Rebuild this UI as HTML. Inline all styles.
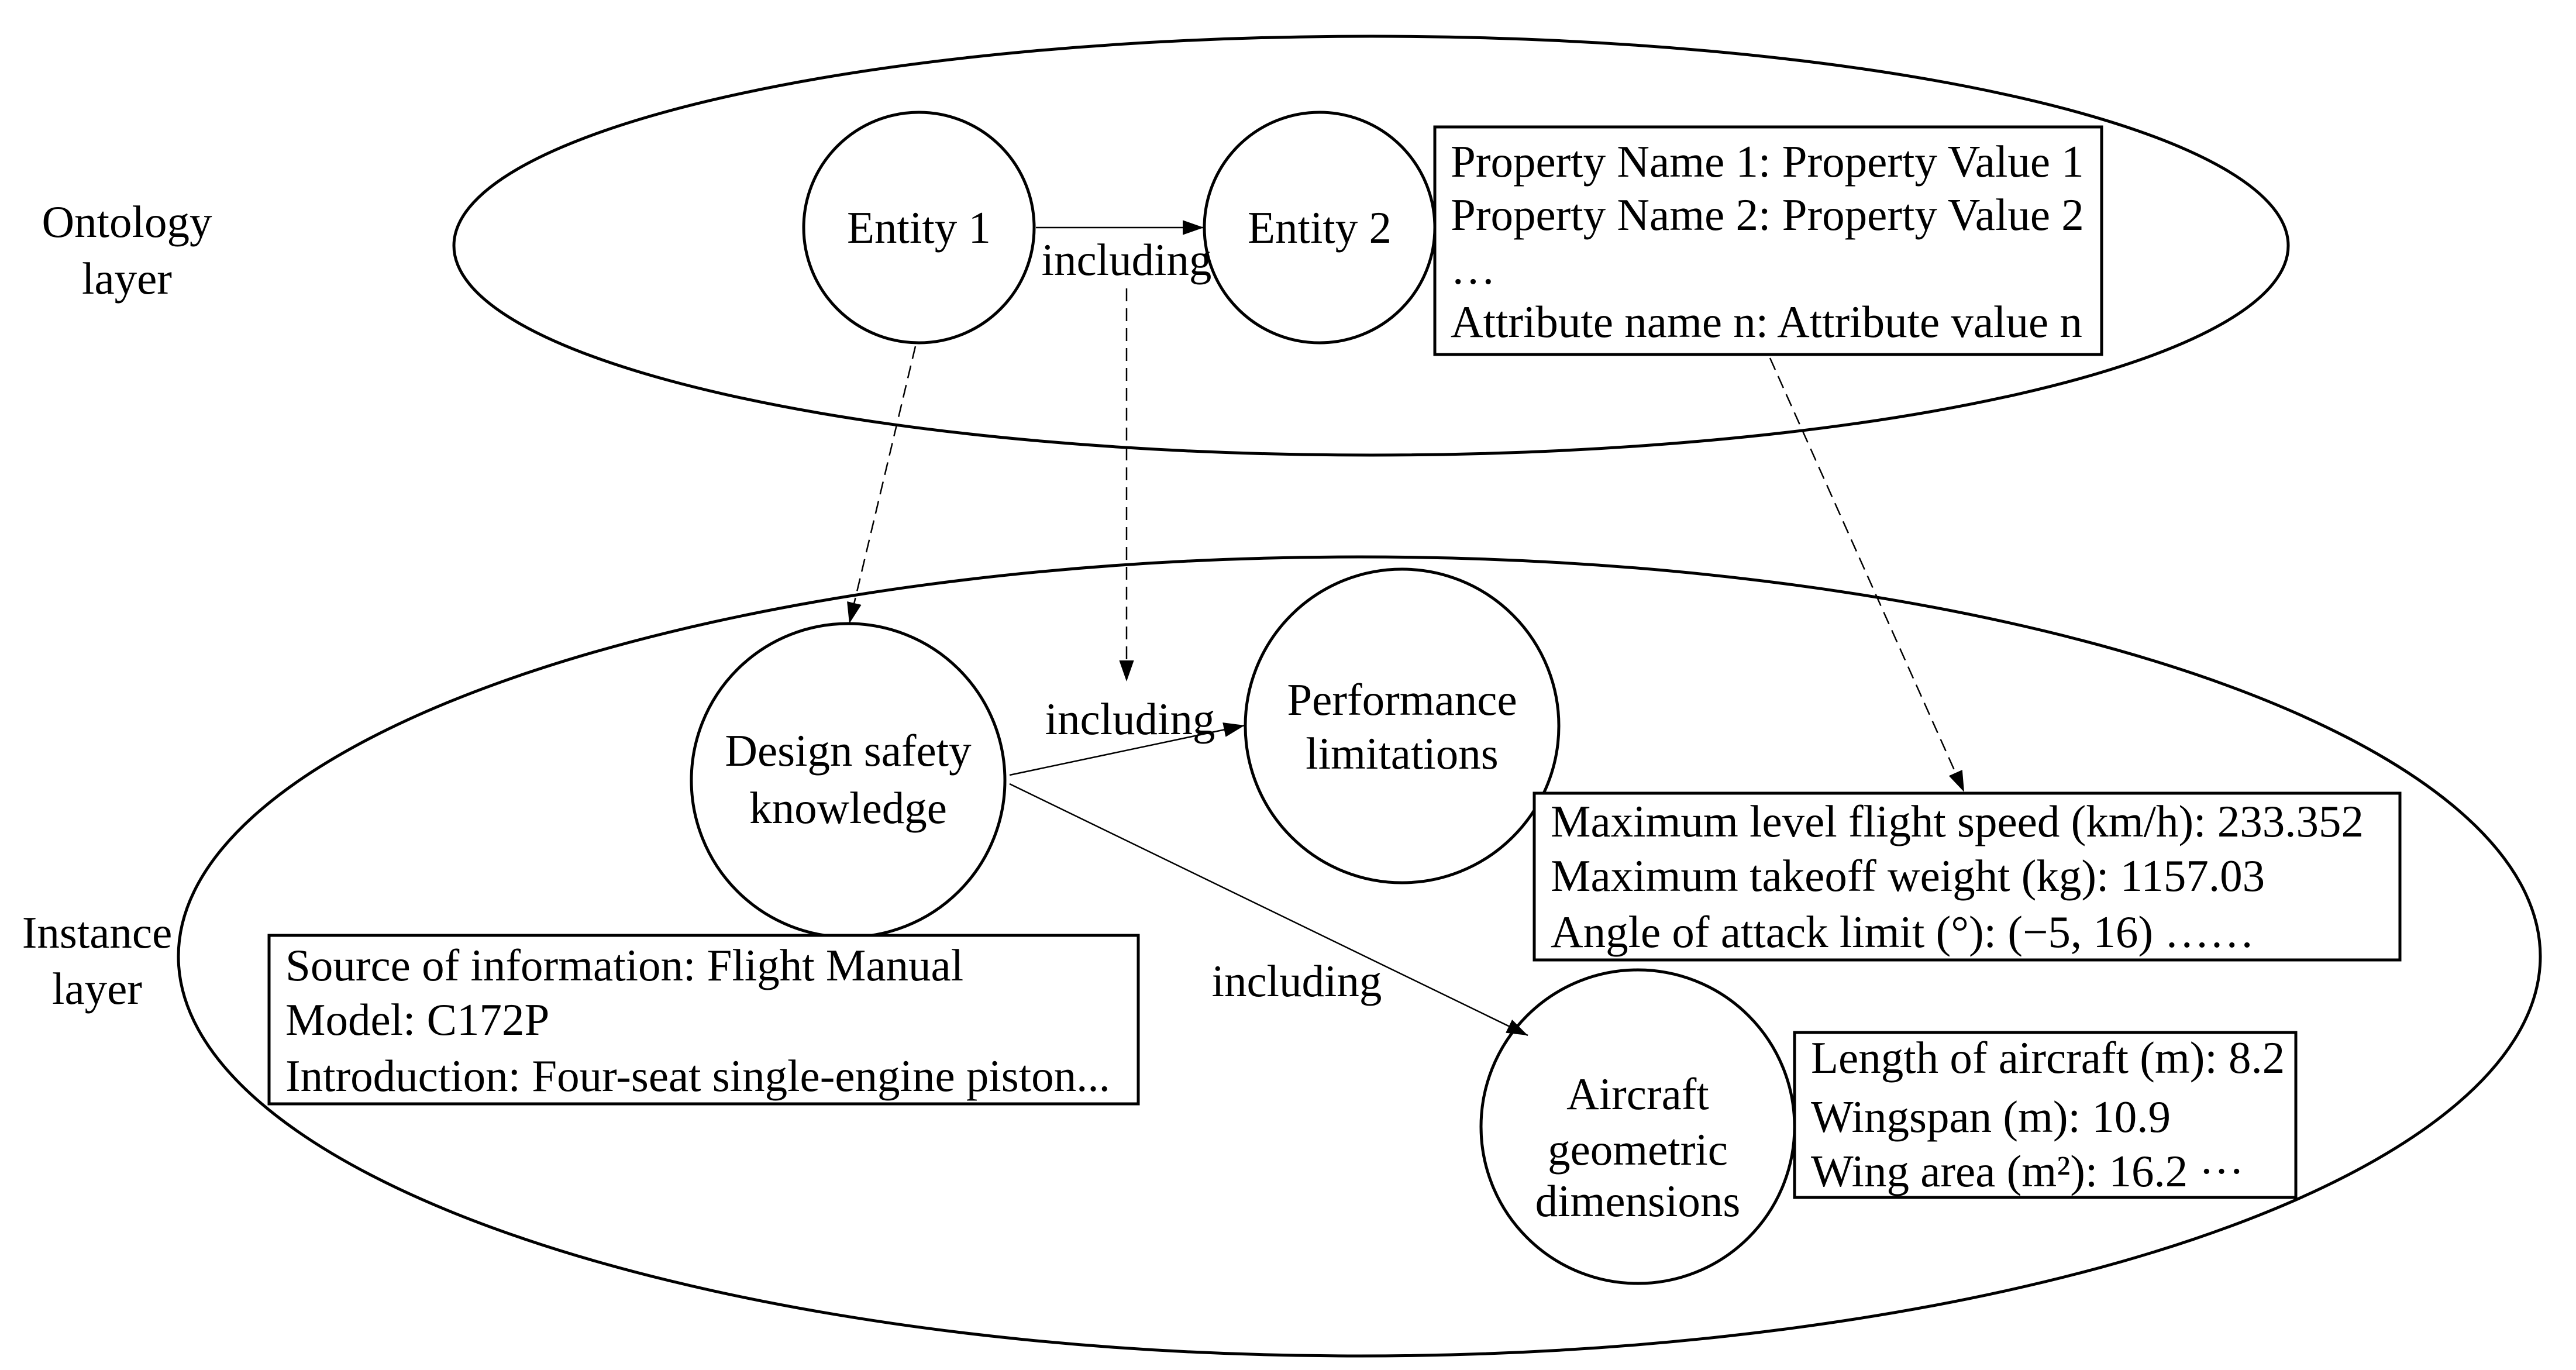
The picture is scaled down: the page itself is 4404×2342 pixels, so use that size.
<!DOCTYPE html>
<html><head><style>html,body{margin:0;padding:0;background:#fff}svg{display:block}</style></head>
<body>
<svg width="4404" height="2342" viewBox="0 0 4404 2342" xmlns="http://www.w3.org/2000/svg" style="font-family:'Liberation Serif',serif" font-size="77" fill="#000">
<defs>
<marker id="b" viewBox="0 0 10 10" refX="10" refY="5" markerWidth="36" markerHeight="36" markerUnits="userSpaceOnUse" orient="auto"><path d="M0,1.5L10,5L0,8.5z" fill="#000"/></marker>
</defs>
<g fill="none" stroke="#000" stroke-width="5">
<ellipse cx="2344" cy="420" rx="1568" ry="358"/>
<ellipse cx="2324" cy="1635" rx="2019" ry="683"/>
<circle cx="1571" cy="389" r="197"/>
<circle cx="2256" cy="389" r="197"/>
<circle cx="1450" cy="1334" r="268"/>
<circle cx="2397" cy="1241" r="268"/>
<circle cx="2800" cy="1926" r="268"/>
<rect x="2453" y="217" width="1140" height="389" fill="#fff"/>
<rect x="460" y="1599" width="1486" height="288" fill="#fff"/>
<rect x="2623" y="1356" width="1480" height="285" fill="#fff"/>
<rect x="3068" y="1765" width="857" height="282" fill="#fff"/>
</g>
<g stroke="#000" stroke-width="2.5" fill="none">
<line x1="1771" y1="389" x2="2058" y2="389" marker-end="url(#b)"/>
<line x1="1726" y1="1325" x2="2128" y2="1240" marker-end="url(#b)"/>
<line x1="1726" y1="1340" x2="2612" y2="1770" marker-end="url(#b)"/>
<g stroke-dasharray="22,12">
<line x1="1565" y1="592" x2="1452" y2="1066" marker-end="url(#b)"/>
<line x1="1926" y1="493" x2="1926" y2="1165" marker-end="url(#b)"/>
<line x1="3026" y1="612" x2="3358" y2="1354" marker-end="url(#b)"/>
</g>
</g>
<g text-anchor="middle">
<text x="217" y="405">Ontology</text><text x="217" y="502">layer</text>
<text x="166" y="1620">Instance</text><text x="166" y="1716">layer</text>
<text x="1571" y="415">Entity 1</text>
<text x="2256" y="415">Entity 2</text>
<text x="1926" y="470">including</text>
<text x="1932" y="1255">including</text>
<text x="2217" y="1703">including</text>
<text x="1450" y="1309">Design safety</text><text x="1450" y="1407">knowledge</text>
<text x="2397" y="1222">Performance</text><text x="2397" y="1314">limitations</text>
<text x="2800" y="1896">Aircraft</text><text x="2800" y="1991">geometric</text><text x="2800" y="2079">dimensions</text>
</g>
<g>
<text x="2480" y="302">Property Name 1: Property Value 1</text>
<text x="2480" y="393">Property Name 2: Property Value 2</text>
<text x="2480" y="485">…</text>
<text x="2480" y="576">Attribute name n: Attribute value n</text>
<text x="2651" y="1430">Maximum level flight speed (km/h): 233.352</text>
<text x="2651" y="1523">Maximum takeoff weight (kg): 1157.03</text>
<text x="2651" y="1619">Angle of attack limit (°): (−5, 16) ……</text>
<text x="488" y="1676">Source of information: Flight Manual</text>
<text x="488" y="1769">Model: C172P</text>
<text x="488" y="1865">Introduction: Four-seat single-engine piston...</text>
<text x="3096" y="1834">Length of aircraft (m): 8.2</text>
<text x="3096" y="1935">Wingspan (m): 10.9</text>
<text x="3096" y="2028">Wing area (m²): 16.2 ···</text>
</g>
</svg>
</body></html>
